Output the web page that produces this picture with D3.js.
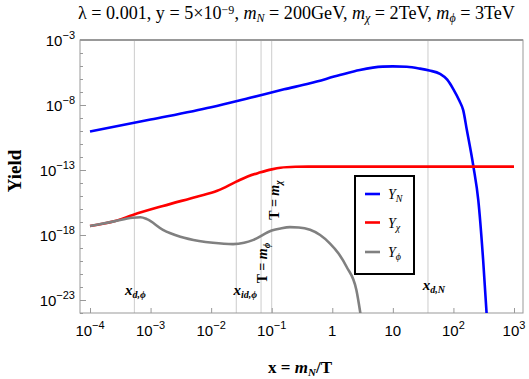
<!DOCTYPE html>
<html><head><meta charset="utf-8">
<script src="https://cdn.jsdelivr.net/npm/d3@7"></script>
<style>body{margin:0;background:#fff} svg{display:block}</style>
</head><body>
<svg id="c" width="529" height="379"></svg>
<script>
// ---- data ----
const xN = [1e-4, 1e-3, 1e-2, 4.4e-2, 0.16, 0.43, 1.33, 2.85, 6.8, 10, 17, 28, 40, 60, 79, 100, 126, 145, 166, 214, 257, 309, 355];
const yN = [9.1e-11, 7.6e-10, 6.8e-9, 3.6e-8, 1.6e-7, 4.7e-7, 2.0e-6, 4.9e-6, 8.9e-6, 9.3e-6, 8.7e-6, 6.3e-6, 4.5e-6, 2.5e-6, 8.9e-7, 1.6e-7, 2.0e-8, 4.0e-9, 1.3e-10, 1.8e-13, 5.0e-16, 1.3e-20, 6e-25];

const xChi = [1e-4, 2.5e-4, 5.1e-4, 1.6e-3, 5.8e-3, 1.26e-2, 2.6e-2, 4.0e-2, 6.3e-2, 0.1, 0.14, 0.25, 0.4, 1000];
const yChi = [4.9e-18, 1.12e-17, 3.5e-17, 1.7e-16, 8.9e-16, 2.5e-15, 1.26e-14, 3.2e-14, 6.3e-14, 1.12e-13, 1.5e-13, 1.76e-13, 1.82e-13, 1.82e-13];

const xPhi = [1e-4, 2.5e-4, 5.0e-4, 6.8e-4, 8.7e-4, 1.6e-3, 3.1e-3, 6.3e-3, 1.07e-2, 2.3e-2, 3.5e-2, 5.0e-2, 0.1, 0.14, 0.2, 0.28, 0.43, 0.63, 0.91, 1.26, 1.72, 2.5, 2.95];
const yPhi = [4.9e-18, 1.12e-17, 2.1e-17, 2.3e-17, 1.66e-17, 2.5e-18, 7.4e-19, 3.5e-19, 2.5e-19, 2.0e-19, 2.5e-19, 4.2e-19, 2.2e-18, 3.2e-18, 4.0e-18, 3.8e-18, 2.5e-18, 1.0e-18, 2.3e-19, 4.0e-20, 3.6e-21, 5.9e-23, 6.3e-25];

const yTop = 1e-3; // gray line at the top

const xTickExp = [-4, -3, -2, -1, 0, 1, 2, 3];
const yTickExp = [-3, -8, -13, -18, -23];
const yMinorExp = d3.range(-24, -2);

const vLines = [5.4e-4, 2.6e-2, 6.67e-2, 0.1, 38];
const seriesLabels = ["N", "χ", "ϕ"];
const colors = ["#0000ff", "#ff0000", "#808080"];

// ---- layout ----
const svg = d3.select("#c");
const L = 80, R = 523, T = 40, B = 313;
const x = d3.scaleLog().domain([1e-4, 1e3]).range([90, 514]);
const y = d3.scaleLog().domain([1e-24, 1e-3]).range([B, T]);

svg.append("defs").append("clipPath").attr("id", "clip")
  .append("rect").attr("x", L).attr("y", T).attr("width", R - L).attr("height", B - T);

// gridlines
svg.append("g").selectAll("line").data(vLines).join("line")
  .attr("x1", d => x(d)).attr("x2", d => x(d)).attr("y1", T).attr("y2", B)
  .attr("stroke", "#cccccc").attr("stroke-width", 1);

// top gray line
svg.append("line").attr("x1", L).attr("x2", R).attr("y1", y(yTop)).attr("y2", y(yTop))
  .attr("stroke", "#999").attr("stroke-width", 2);

// frame
svg.append("rect").attr("x", L).attr("y", T).attr("width", R - L).attr("height", B - T)
  .attr("fill", "none").attr("stroke", "#999").attr("stroke-width", 1);

// axes ticks
const xAxis = d3.axisBottom(x).tickValues(xTickExp.map(e => Math.pow(10, e))).tickSize(-5).tickFormat("");
const gx = svg.append("g").attr("transform", `translate(0,${B})`).call(xAxis);
gx.select(".domain").remove();
gx.selectAll(".tick line").attr("stroke", "#999");

const yAxisMinor = d3.axisLeft(y).tickValues(yMinorExp.map(e => Math.pow(10, e))).tickSize(-3).tickFormat("");
const gym = svg.append("g").attr("transform", `translate(${L},0)`).call(yAxisMinor);
gym.select(".domain").remove();
gym.selectAll(".tick line").attr("stroke", "#999");
const yAxis = d3.axisLeft(y).tickValues(yTickExp.map(e => Math.pow(10, e))).tickSize(-6).tickFormat("");
const gy = svg.append("g").attr("transform", `translate(${L},0)`).call(yAxis);
gy.select(".domain").remove();
gy.selectAll(".tick line").attr("stroke", "#999");

function powLabel(sel, e) {
  if (e === 0) { sel.text("1"); return; }
  if (e === 1) { sel.text("10"); return; }
  sel.append("tspan").text("10");
  sel.append("tspan").attr("dy", -7).attr("font-size", 11).text(e < 0 ? "−" + (-e) : String(e));
}
const sans = "'Liberation Sans', Arial, sans-serif";
xTickExp.forEach(e => {
  const t = svg.append("text").attr("x", x(Math.pow(10, e))).attr("y", 336)
    .attr("text-anchor", "middle").attr("font-family", sans).attr("font-size", 15).attr("fill", "#000");
  powLabel(t, e);
});
yTickExp.forEach(e => {
  const t = svg.append("text").attr("x", 75).attr("y", y(Math.pow(10, e)) + 6)
    .attr("text-anchor", "end").attr("font-family", sans).attr("font-size", 15).attr("fill", "#000");
  powLabel(t, e);
});

// curves
const g = svg.append("g").attr("clip-path", "url(#clip)");
const line = d3.line().x(d => x(d[0])).y(d => y(d[1])).curve(d3.curveMonotoneX);
const series = [[xN, yN], [xChi, yChi], [xPhi, yPhi]];
series.forEach((s, i) => {
  g.append("path").datum(s[0].map((v, j) => [v, s[1][j]]))
    .attr("fill", "none").attr("stroke", colors[i]).attr("stroke-width", 2.6)
    .attr("stroke-linejoin", "round").attr("d", line);
});

const serif = "'Liberation Serif', 'Times New Roman', serif";

// annotations
function xAnn(cx, by, sub) {
  const t = svg.append("text").attr("x", cx).attr("y", by).attr("text-anchor", "middle")
    .attr("font-family", serif).attr("font-weight", "bold").attr("font-style", "italic").attr("font-size", 15);
  t.append("tspan").text("x");
  t.append("tspan").attr("dy", 3).attr("font-size", 10).text(sub);
}
xAnn(x(vLines[0]) + 1, 295, "d,ϕ");
xAnn(x(vLines[1]) + 9, 295, "id,ϕ");
xAnn(x(vLines[4]) + 6, 290, "d,N");

function rotAnn(bx, cy, sub) {
  const t = svg.append("text").attr("transform", `translate(${bx},${cy}) rotate(-90)`)
    .attr("text-anchor", "middle").attr("font-family", serif).attr("font-weight", "bold").attr("font-size", 14);
  t.append("tspan").text("T = ");
  t.append("tspan").attr("font-style", "italic").text("m");
  t.append("tspan").attr("dy", 3).attr("font-size", 9.5).attr("font-style", "italic").text(sub);
}
rotAnn(267, 263, "ϕ");
rotAnn(279, 200, "χ");

// legend
svg.append("rect").attr("x", 355).attr("y", 176).attr("width", 59).attr("height", 98)
  .attr("fill", "#fff").attr("stroke", "#000").attr("stroke-width", 2);
const legY = [194, 222.5, 252];
seriesLabels.forEach((lab, i) => {
  svg.append("line").attr("x1", 365).attr("x2", 380).attr("y1", legY[i]).attr("y2", legY[i])
    .attr("stroke", colors[i]).attr("stroke-width", 2.6);
  const t = svg.append("text").attr("x", 388).attr("y", legY[i] + 5)
    .attr("font-family", serif).attr("font-style", "italic").attr("font-size", 14);
  t.append("tspan").text("Y");
  t.append("tspan").attr("dy", 3).attr("font-size", 10).text(lab);
});

// title (font size fitted to the reference's width)
const title = svg.append("text").attr("x", 78).attr("y", 19)
  .attr("font-family", serif).attr("font-size", 15).attr("fill", "#000");
const subs = [];
title.append("tspan").text("λ = 0.001, y = 5×10");
subs.push(title.append("tspan").attr("dy", -5).attr("font-size", 10).text("−9"));
title.append("tspan").attr("dy", 5).text(", ");
title.append("tspan").attr("font-style", "italic").text("m");
subs.push(title.append("tspan").attr("dy", 3).attr("font-size", 10).attr("font-style", "italic").text("N"));
title.append("tspan").attr("dy", -3).text(" = 200GeV, ");
title.append("tspan").attr("font-style", "italic").text("m");
subs.push(title.append("tspan").attr("dy", 3).attr("font-size", 10).attr("font-style", "italic").text("χ"));
title.append("tspan").attr("dy", -3).text(" = 2TeV, ");
title.append("tspan").attr("font-style", "italic").text("m");
subs.push(title.append("tspan").attr("dy", 3).attr("font-size", 10).attr("font-style", "italic").text("ϕ"));
title.append("tspan").attr("dy", -3).text(" = 3TeV");
const w0 = title.node().getComputedTextLength();
const k = 437 / w0;
title.attr("font-size", 15 * k);
subs.forEach(s => s.attr("font-size", 10 * k));

// axis titles
const xl = svg.append("text").attr("x", 300).attr("y", 373).attr("text-anchor", "middle")
  .attr("font-family", serif).attr("font-weight", "bold").attr("font-size", 17);
xl.append("tspan").text("x = ");
xl.append("tspan").attr("font-style", "italic").text("m");
xl.append("tspan").attr("dy", 3).attr("font-size", 11).attr("font-style", "italic").text("N");
xl.append("tspan").attr("dy", -3).text("/T");

svg.append("text").attr("transform", "translate(21,171) rotate(-90)").attr("text-anchor", "middle")
  .attr("font-family", serif).attr("font-weight", "bold").attr("font-size", 19).text("Yield");
</script>
</body></html>
